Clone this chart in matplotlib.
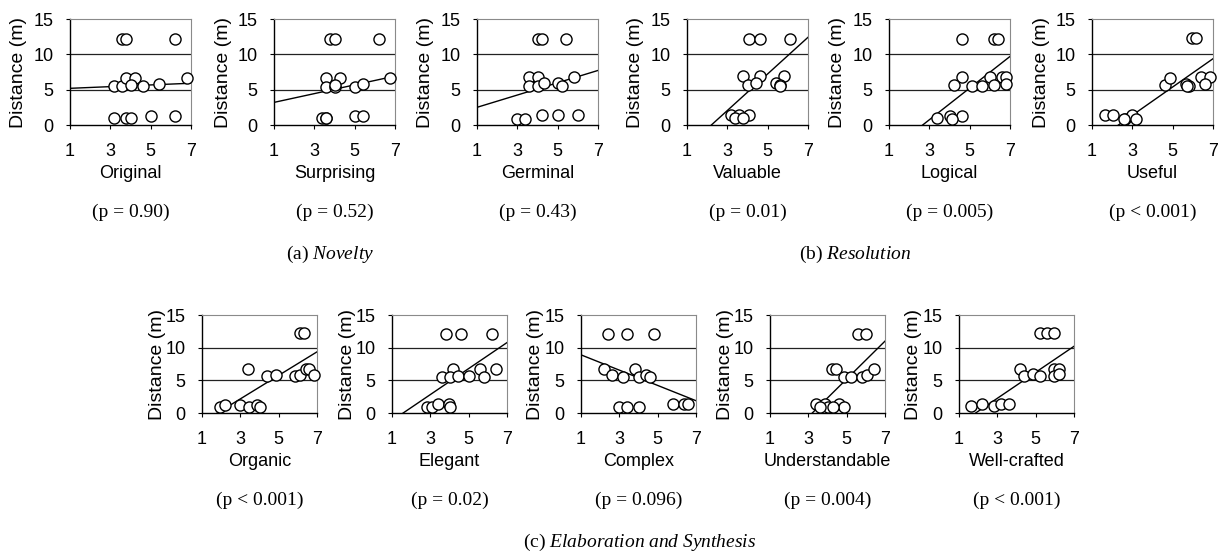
import matplotlib
matplotlib.use('Agg')
import matplotlib.pyplot as plt
import numpy as np

plt.rcParams['font.family'] = 'Liberation Sans'
plt.rcParams['mathtext.fontset'] = 'custom'
plt.rcParams['mathtext.rm'] = 'Liberation Serif'
plt.rcParams['mathtext.it'] = 'Liberation Serif:italic'

# datos (puntaje 1-7 vs distancia en metros)
labels = ['Original', 'Surprising', 'Germinal', 'Valuable', 'Logical', 'Useful',
          'Organic', 'Elegant', 'Complex', 'Understandable', 'Well-crafted']
p_texts = ['(p = 0.90)', '(p = 0.52)', '(p = 0.43)', '(p = 0.01)', '(p = 0.005)', '(p < 0.001)',
           '(p < 0.001)', '(p = 0.02)', '(p = 0.096)', '(p = 0.004)', '(p < 0.001)']

original_x = [3.6, 3.8, 6.2, 3.2, 3.6, 3.8, 4.2, 4.0, 4.6, 5.4, 6.8, 3.2, 3.8, 4.0, 5.0, 6.2]
original_y = [12.1, 12.1, 12.1, 5.5, 5.5, 6.7, 6.7, 5.7, 5.5, 5.8, 6.7, 1.0, 1.0, 1.0, 1.3, 1.3]

surprising_x = [3.8, 4.0, 6.2, 3.6, 4.25, 6.75, 3.6, 4.0, 5.0, 5.4, 3.4, 3.6, 5.0, 5.4, 4.0, 3.6]
surprising_y = [12.1, 12.1, 12.1, 6.7, 6.7, 6.7, 5.4, 5.4, 5.4, 5.8, 1.0, 1.0, 1.3, 1.3, 5.7, 1.0]

germinal_x = [4.0, 4.2, 5.4, 3.6, 4.0, 5.8, 3.6, 4.0, 4.3, 5.0, 5.2, 3.0, 3.4, 4.2, 5.0, 6.0]
germinal_y = [12.1, 12.1, 12.1, 6.8, 6.8, 6.8, 5.5, 5.5, 5.9, 5.9, 5.5, 0.9, 0.9, 1.4, 1.4, 1.4]

valuable_x = [4.05, 4.6, 6.1, 3.8, 4.6, 5.8, 4.0, 4.4, 5.4, 5.6, 3.2, 3.6, 4.05, 3.4, 5.6, 3.8]
valuable_y = [12.1, 12.1, 12.1, 6.9, 6.9, 6.9, 5.6, 5.9, 5.9, 5.6, 1.4, 1.4, 1.4, 1.0, 5.5, 1.0]

logical_x = [4.6, 6.2, 6.4, 4.6, 4.2, 5.1, 5.6, 6.0, 6.6, 6.2, 6.8, 6.8, 3.4, 4.0, 4.6, 4.1]
logical_y = [12.2, 12.2, 12.2, 6.8, 5.6, 5.5, 5.5, 6.8, 6.8, 5.7, 6.8, 5.8, 1.0, 1.3, 1.3, 0.9]

useful_x = [5.95, 6.15, 4.6, 4.85, 5.65, 5.8, 6.4, 6.85, 6.6, 5.7, 1.65, 2.05, 2.65, 3.0, 3.2, 2.6]
useful_y = [12.3, 12.3, 5.7, 6.7, 5.8, 5.5, 6.8, 6.8, 5.8, 5.5, 1.4, 1.4, 0.9, 1.4, 0.9, 0.9]

organic_x = [6.1, 6.3, 3.4, 4.4, 4.85, 5.85, 6.1, 6.4, 6.6, 6.85, 1.95, 2.2, 3.0, 3.45, 3.85, 4.0]
organic_y = [12.2, 12.2, 6.8, 5.6, 5.8, 5.6, 5.8, 6.8, 6.8, 5.8, 0.9, 1.2, 1.2, 0.9, 1.2, 0.9]

elegant_x = [3.8, 4.6, 6.2, 4.2, 5.6, 6.4, 3.6, 4.0, 4.45, 5.0, 5.8, 2.8, 3.1, 3.4, 3.95, 4.0]
elegant_y = [12.1, 12.1, 12.1, 6.8, 6.8, 6.8, 5.5, 5.5, 5.7, 5.7, 5.5, 0.9, 0.9, 1.4, 1.4, 0.9]

complex_x = [2.4, 3.4, 4.8, 2.2, 3.8, 2.6, 3.2, 4.0, 4.4, 4.6, 3.0, 3.4, 4.0, 5.8, 6.35, 6.6]
complex_y = [12.1, 12.1, 12.1, 6.8, 6.8, 5.8, 5.5, 5.5, 5.8, 5.5, 0.9, 0.9, 0.9, 1.4, 1.4, 1.4]

understandable_x = [5.6, 6.0, 4.25, 4.45, 4.85, 5.2, 5.8, 6.05, 6.4, 3.4, 3.85, 4.05, 4.6, 4.85, 4.3, 3.6]
understandable_y = [12.1, 12.1, 6.8, 6.8, 5.5, 5.5, 5.5, 5.8, 6.8, 1.4, 1.4, 0.9, 1.4, 0.9, 0.9, 0.9]

wellcrafted_x = [5.2, 5.6, 5.95, 4.2, 4.4, 4.85, 5.2, 5.95, 6.2, 5.95, 6.2, 1.65, 2.2, 2.8, 3.2, 3.6]
wellcrafted_y = [12.2, 12.2, 12.2, 6.8, 5.6, 5.9, 5.6, 6.8, 6.8, 5.6, 5.9, 1.0, 1.4, 1.0, 1.4, 1.4]

all_x = [original_x, surprising_x, germinal_x, valuable_x, logical_x, useful_x,
         organic_x, elegant_x, complex_x, understandable_x, wellcrafted_x]
all_y = [original_y, surprising_y, germinal_y, valuable_y, logical_y, useful_y,
         organic_y, elegant_y, complex_y, understandable_y, wellcrafted_y]

# recta de tendencia de cada panel
line_slope = [0.12, 0.62, 0.87, 2.59, 2.24, 2.0, 1.8, 1.99, -1.17, 2.9, 1.99]
line_intercept = [5.07, 2.58, 1.63, -5.72, -5.98, -4.62, -3.24, -3.15, 10.07, -9.3, -3.72]

W, H = 1223, 552
fig = plt.figure(figsize=(W / 100, H / 100), dpi=100)

# posiciones en pixeles: (izquierda, y del cero, ancho, alto)
top_left = [70, 274, 477, 687, 889, 1092]
bot_left = [202, 392, 581, 770, 959]
boxes = [(l, 125, 121, 106) for l in top_left] + [(l, 413, 115, 98) for l in bot_left]

for i, (l, b, w, h) in enumerate(boxes):
    ax = fig.add_axes([l / W, 1 - b / H, w / W, h / H])
    ax.set_xlim(1, 7)
    ax.set_ylim(0, 15)
    ax.set_xticks([1, 3, 5, 7])
    ax.set_yticks([0, 5, 10, 15])
    ax.tick_params(axis='x', direction='out', length=3, width=0.8, pad=10, labelsize=13)
    ax.tick_params(axis='y', direction='out', length=3, width=0.8, pad=9, labelsize=13)
    for s in ['left', 'bottom']:
        ax.spines[s].set_color('black')
        ax.spines[s].set_linewidth(1)
    for s in ['top', 'right']:
        ax.spines[s].set_color('#8a8a8a')
        ax.spines[s].set_linewidth(0.8)
    for g in [5, 10]:
        ax.axhline(g, color='#222222', lw=0.9, zorder=1)

    xs = np.array([1.0, 7.0])
    ax.plot(xs, line_intercept[i] + line_slope[i] * xs, color='black', lw=1, zorder=2)
    ax.plot(all_x[i], all_y[i], 'o', ms=8, mfc='white', mec='black', mew=1,
            zorder=3, clip_on=False)

    off = 51 if i < 6 else 45
    ax.text(-off / w, 0.5, 'Distance (m)', transform=ax.transAxes, rotation=90,
            ha='center', va='center', fontsize=14)

    cx = (l + w / 2) / W
    y_lab = 173 if i < 6 else 461
    y_p = 212 if i < 6 else 500
    fig.text(cx, 1 - y_lab / H, labels[i], ha='center', va='center', fontsize=13)
    fig.text(cx, 1 - y_p / H, p_texts[i], ha='center', va='center', fontsize=14,
             family='Liberation Serif')

fig.text(330 / W, 1 - 254 / H, r'(a) $\mathit{Novelty}$', ha='center', va='center',
         fontsize=14, family='Liberation Serif')
fig.text(855 / W, 1 - 254 / H, r'(b) $\mathit{Resolution}$', ha='center', va='center',
         fontsize=14, family='Liberation Serif')
fig.text(640 / W, 1 - 542 / H, r'(c) $\mathit{Elaboration\ and\ Synthesis}$', ha='center',
         va='center', fontsize=14, family='Liberation Serif')

plt.savefig('out.png', dpi=100)
